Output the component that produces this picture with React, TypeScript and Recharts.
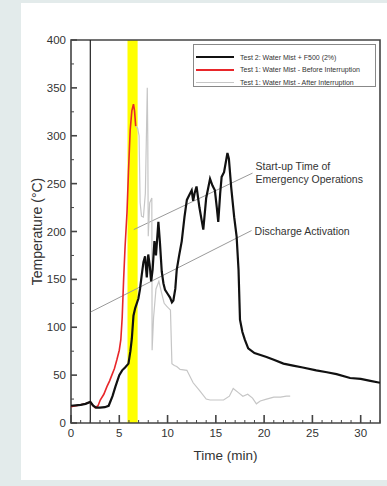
import { LineChart, Line, XAxis, YAxis, ReferenceLine, ReferenceArea } from 'recharts';

// Test 2: water mist + F500 (2%)
const test2Time = [
  0, 0.5, 1, 1.5, 2, 2.3, 2.6, 3, 3.5, 3.9, 4.3, 4.6, 5, 5.3, 5.6, 5.95, 6.15, 6.3, 6.47, 6.65,
  6.98, 7.15, 7.33, 7.5, 7.67, 7.85, 8.0, 8.15, 8.3, 8.45, 8.64, 8.8, 9.05, 9.2, 9.4, 9.57, 9.74,
  10.0, 10.26, 10.45, 10.6, 10.8, 10.95, 11.2, 11.47, 11.75, 12.0, 12.25, 12.5, 12.65, 12.8, 13.0,
  13.3, 13.7, 14.0, 14.4, 14.65, 14.9, 15.1, 15.25, 15.45, 15.6, 15.85, 16.2, 16.35, 16.6, 16.9,
  17.15, 17.35, 17.5, 17.75, 18.0, 18.35, 19, 20.25, 21, 22, 23, 24, 25.4, 26.5, 27.5, 28.9, 30, 31, 32,
];
const test2Temp = [
  18, 18.5, 19, 20, 22, 18, 16, 16, 16.5, 18, 28, 38, 50, 55, 58, 62, 75, 88, 112, 120,
  130, 140, 155, 168, 174, 152, 176, 165, 148, 160, 190, 175, 210, 190, 158, 146, 139,
  135, 131, 126, 128, 140, 160, 175, 190, 215, 233, 238, 243, 232, 240, 247,
  225, 202, 235, 255, 248, 243, 225, 210, 240, 257, 262, 282, 276, 245, 215,
  195, 160, 108, 95, 87, 78, 73, 69, 66, 62, 60, 58, 55, 53, 51, 47, 46, 44, 42,
];

// Test 1: water mist, before interruption
const beforeTime = [
  0, 0.5, 1, 1.5, 2, 2.2, 2.5, 2.8, 3.03, 3.4, 3.72, 4.0, 4.23, 4.5, 4.75, 5.0, 5.16, 5.3, 5.45,
  5.6, 5.8, 5.95, 6.13, 6.3, 6.47, 6.58, 6.7,
];
const beforeTemp = [
  17, 18, 19, 20, 22, 19, 16, 18, 24, 30, 38, 44, 50, 57, 66, 76, 87, 110, 150,
  184, 220, 262, 306, 326, 333, 326, 310,
];

// Test 1: water mist, after interruption
const afterTime = [
  6.7, 6.9, 7.05, 7.16, 7.3, 7.5, 7.7, 7.9, 7.95, 8.0, 8.15, 8.37, 8.4, 8.55, 8.8, 9.1, 9.4, 9.65,
  9.9, 10.1, 10.3, 10.45, 10.7, 10.95, 11.3, 12.0, 12.65, 13.3, 14.0, 14.4, 15.1, 15.8, 16.4, 16.8,
  17.3, 17.8, 18.3, 18.8, 19.2, 19.6, 20.25, 21, 21.7, 22.3, 22.7,
];
const afterTemp = [
  310, 308, 300, 230, 216, 215, 240, 350, 300, 195, 230, 235, 76, 110, 140, 148, 135, 125,
  122, 120, 118, 62, 60, 59, 56, 55, 42, 34, 25, 24, 24, 24, 28, 36,
  32, 28, 30, 26, 20, 23, 25, 27, 27, 28, 28,
];

const seriesNames = [
  'Test 2: Water Mist + F500 (2%)',
  'Test 1: Water Mist - Before Interruption',
  'Test 1: Water Mist - After Interruption',
];
const seriesColors = ['#111111', '#e8262a', '#c6c6c6'];
const seriesWidths = [2.2, 1.6, 1.2];

const xTicks = [0, 1, 2, 3, 4, 5, 6, 7, 8, 9, 10, 11, 12, 13, 14, 15, 16, 17, 18, 19, 20, 21, 22, 23, 24, 25, 26, 27, 28, 29, 30, 31, 32];
const xLabels = [0, 5, 10, 15, 20, 25, 30];
const yTicks = [0, 25, 50, 75, 100, 125, 150, 175, 200, 225, 250, 275, 300, 325, 350, 375, 400];
const yLabels = [0, 50, 100, 150, 200, 250, 300, 350, 400];

const ignitionTime = 2;
const startupBand = [5.85, 6.9];
const startupPointer = [{ x: 6.5, y: 202 }, { x: 18.8, y: 261 }];
const dischargePointer = [{ x: 2.05, y: 116 }, { x: 18.7, y: 201 }];

const FONT = '"Liberation Sans", Arial, sans-serif';
const INK = '#333';

const toPoints = (t: number[], v: number[]) => t.map((x, i) => ({ t: x, temp: v[i] }));
const seriesData = [
  toPoints(test2Time, test2Temp),
  toPoints(beforeTime, beforeTemp),
  toPoints(afterTime, afterTemp),
];

const XTick = (props: any) => {
  const { x, y, payload } = props;
  const major = xLabels.includes(payload.value);
  return (
    <g>
      <line x1={x} x2={x} y1={y} y2={y - (major ? 8 : 3)} stroke="#444" strokeWidth={major ? 1.6 : 1} />
      {major && (
        <text x={x} y={y + 14} textAnchor="middle" fontSize={11.5} fontFamily={FONT} fill={INK}>
          {payload.value}
        </text>
      )}
    </g>
  );
};

const YTick = (props: any) => {
  const { x, y, payload } = props;
  const major = yLabels.includes(payload.value);
  return (
    <g>
      <line x1={x} x2={x + (major ? 6 : 3)} y1={y} y2={y} stroke="#444" strokeWidth={major ? 1.6 : 1} />
      {major && (
        <text x={x - 5} y={y + 4} textAnchor="end" fontSize={11.5} fontFamily={FONT} fill={INK}>
          {payload.value}
        </text>
      )}
    </g>
  );
};

const pointerLabel = (lines: string[]) => (props: any) => {
  const { viewBox } = props;
  const x = viewBox.x + viewBox.width + 3;
  const y = viewBox.y;
  return (
    <text x={x} y={y} fontSize={10.5} fontFamily={FONT} fill={INK}>
      {lines.map((l, i) => (
        <tspan key={l} x={x} dy={i === 0 ? (lines.length > 1 ? -3 : 4) : 13}>{l}</tspan>
      ))}
    </text>
  );
};

function LegendBox() {
  return (
    <div
      style={{
        position: 'absolute', left: 193, top: 44, width: 183, height: 43,
        border: '1px solid #888', background: '#fff', boxSizing: 'border-box',
        fontFamily: FONT, fontSize: 7, color: INK, paddingTop: 6, paddingLeft: 2,
      }}
    >
      {seriesNames.map((name, i) => (
        <div key={name} style={{ display: 'flex', alignItems: 'center', height: 12.5 }}>
          <div style={{ width: 38, height: seriesWidths[i], background: seriesColors[i], marginRight: 6 }} />
          <span style={{ whiteSpace: 'nowrap' }}>{name}</span>
        </div>
      ))}
    </div>
  );
}

export default function App() {
  return (
    <div style={{ position: 'absolute', left: 0, top: 0, width: 387, height: 486, background: '#e3ebeb', overflow: 'hidden' }}>
      <div style={{ position: 'absolute', left: 21, top: 3, width: 366, height: 477, background: '#fff' }} />
      <div style={{ position: 'absolute', left: 0, top: 0 }}>
        <LineChart width={387} height={486} margin={{ top: 40, right: 7, left: 0, bottom: 0 }}>
          <XAxis
            type="number"
            dataKey="t"
            domain={[0, 32]}
            ticks={xTicks}
            interval={0}
            allowDataOverflow
            height={63}
            axisLine={false}
            tickLine={false}
            tickSize={0}
            tickMargin={0}
            tick={<XTick />}
            label={{
              content: (p: any) => (
                <text x={p.viewBox.x + p.viewBox.width / 2} y={p.viewBox.y + 37} textAnchor="middle" fontSize={13.5} fontFamily={FONT} fill={INK}>
                  Time (min)
                </text>
              ),
            }}
          />
          <YAxis
            type="number"
            domain={[0, 400]}
            ticks={yTicks}
            interval={0}
            allowDataOverflow
            width={71}
            axisLine={false}
            tickLine={false}
            tickSize={0}
            tickMargin={0}
            tick={<YTick />}
            label={{
              content: (p: any) => {
                const cx = 37;
                const cy = p.viewBox.y + p.viewBox.height / 2;
                return (
                  <text x={cx} y={cy} transform={`rotate(-90 ${cx} ${cy})`} textAnchor="middle" dominantBaseline="central" fontSize={14} fontFamily={FONT} fill={INK}>
                    Temperature (°C)
                  </text>
                );
              },
            }}
          />
          <ReferenceArea x1={startupBand[0]} x2={startupBand[1]} y1={0} y2={400} fill="#ffff00" fillOpacity={1} stroke="none" />
          <ReferenceLine x={ignitionTime} stroke="#222" strokeWidth={1.2} />
          <ReferenceLine segment={startupPointer} stroke="#9a9a9a" strokeWidth={1} label={{ content: pointerLabel(['Start-up Time of', 'Emergency Operations']) }} />
          <ReferenceLine segment={dischargePointer} stroke="#9a9a9a" strokeWidth={1} label={{ content: pointerLabel(['Discharge Activation']) }} />
          {[2, 1, 0].map((i) => (
            <Line
              key={seriesNames[i]}
              data={seriesData[i]}
              dataKey="temp"
              name={seriesNames[i]}
              type="linear"
              stroke={seriesColors[i]}
              strokeWidth={seriesWidths[i]}
              dot={false}
              isAnimationActive={false}
            />
          ))}
          <ReferenceArea x1={0} x2={32} y1={0} y2={400} fill="none" stroke="#444" strokeWidth={1.6} />
        </LineChart>
      </div>
      <LegendBox />
    </div>
  );
}
